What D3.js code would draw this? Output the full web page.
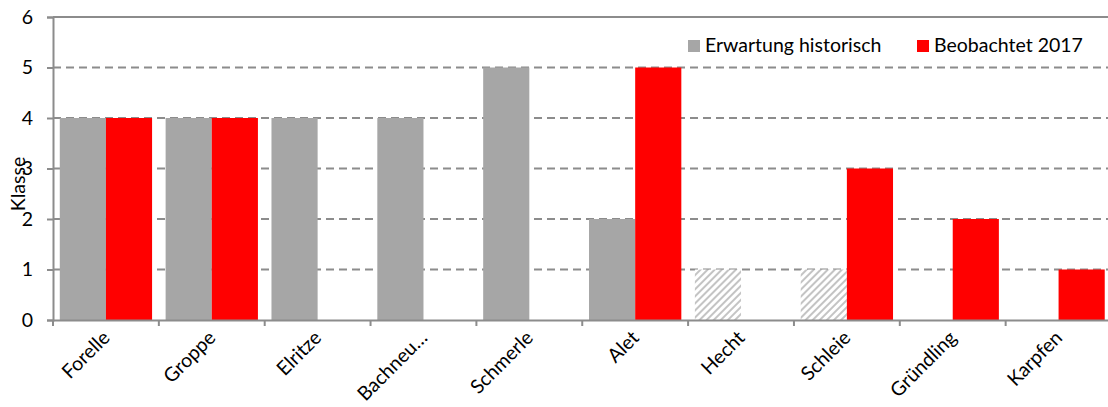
<!DOCTYPE html>
<html>
<head>
<meta charset="utf-8">
<script src="https://cdn.jsdelivr.net/npm/d3@7"></script>
<style>
  html, body { margin: 0; padding: 0; background: #fff; overflow: hidden; }
  svg { display: block; }
  svg text { font-family: Lato, "Open Sans", sans-serif; }
</style>
</head>
<body>
<svg id="chart" width="1108" height="407"></svg>
<script>
// Fish species (x axis)
const categories = ["Forelle", "Groppe", "Elritze", "Bachneu…", "Schmerle", "Alet", "Hecht", "Schleie", "Gründling", "Karpfen"];
// Expected abundance class, historical
const expected = [4, 4, 4, 4, 5, 2, 1, 1, 0, 0];
// Expected values that are only uncertain (drawn hatched)
const expectedUncertain = [false, false, false, false, false, false, true, true, false, false];
// Observed abundance class, 2017
const observed = [4, 4, 0, 0, 0, 5, 0, 3, 2, 1];
// Y axis ticks
const yTicks = [0, 1, 2, 3, 4, 5, 6];
const seriesNames = ["Erwartung historisch", "Beobachtet 2017"];

const GREY = "#a6a6a6", RED = "#ff0000", AXIS = "#8c8c8c";
const FONT = 19.5;

const svg = d3.select("#chart");

const x = d3.scaleBand().domain(categories).range([53, 1111.5]).padding(0);
const y = d3.scaleLinear().domain([0, 6]).range([320, 17]);

const barW = x.bandwidth() * 0.436;
const groupOff = (x.bandwidth() - 2 * barW) / 2;

// hatch pattern for uncertain expectations
const defs = svg.append("defs");
const pat = defs.append("pattern")
  .attr("id", "hatch").attr("patternUnits", "userSpaceOnUse")
  .attr("width", 5).attr("height", 5)
  .attr("patternTransform", "rotate(45)");
pat.append("rect").attr("width", 5).attr("height", 5).attr("fill", "#fff");
pat.append("rect").attr("width", 2).attr("height", 5).attr("fill", "#c4c4c4");

// grid lines
svg.append("g").selectAll("line")
  .data(yTicks.filter(d => d > 0))
  .join("line")
  .attr("x1", 53).attr("x2", 1111.5)
  .attr("y1", d => y(d)).attr("y2", d => y(d))
  .attr("stroke", AXIS).attr("stroke-width", 2)
  .attr("stroke-dasharray", d => d === 6 ? null : "8,5");

// bars: expected
svg.append("g").selectAll("rect")
  .data(categories.map((c, i) => ({ c, v: expected[i], u: expectedUncertain[i] })).filter(d => d.v > 0))
  .join("rect")
  .attr("x", d => x(d.c) + groupOff)
  .attr("y", d => y(d.v))
  .attr("width", barW)
  .attr("height", d => y(0) - y(d.v))
  .attr("fill", d => d.u ? "url(#hatch)" : GREY);

// bars: observed
svg.append("g").selectAll("rect")
  .data(categories.map((c, i) => ({ c, v: observed[i] })).filter(d => d.v > 0))
  .join("rect")
  .attr("x", d => x(d.c) + groupOff + barW)
  .attr("y", d => y(d.v))
  .attr("width", barW)
  .attr("height", d => y(0) - y(d.v))
  .attr("fill", RED);

// y axis
const yAxis = svg.append("g").attr("transform", "translate(53,0)")
  .call(d3.axisLeft(y).tickValues(yTicks).tickFormat(d3.format("d")).tickSize(6).tickPadding(14))
  .attr("font-family", null).attr("font-size", FONT);
yAxis.select(".domain").attr("stroke", AXIS).attr("stroke-width", 2);
yAxis.selectAll(".tick line").attr("stroke", AXIS).attr("stroke-width", 2);
yAxis.selectAll(".tick text").attr("fill", "#000");

// x axis
const xAxis = svg.append("g").attr("transform", "translate(0,320)")
  .call(d3.axisBottom(x).tickSize(0).tickFormat(""))
  .attr("font-family", null).attr("font-size", FONT);
xAxis.select(".domain").attr("stroke", AXIS).attr("stroke-width", 2);
xAxis.selectAll(".tick").remove();
xAxis.selectAll("line.sep")
  .data(categories)
  .join("line").attr("class", "sep")
  .attr("x1", d => x(d)).attr("x2", d => x(d))
  .attr("y1", 0).attr("y2", 6)
  .attr("stroke", AXIS).attr("stroke-width", 2);
xAxis.selectAll("text.lab")
  .data(categories)
  .join("text").attr("class", "lab")
  .attr("transform", d => `translate(${x(d) + x.bandwidth() / 2 + 5},${19}) rotate(-45)`)
  .attr("text-anchor", "end")
  .attr("fill", "#000")
  .text(d => d);

// y axis title
svg.append("text")
  .attr("transform", "translate(25,184) rotate(-90)")
  .attr("text-anchor", "middle")
  .attr("font-size", FONT)
  .attr("fill", "#000")
  .text("Klasse");

// legend
const legend = svg.append("g");
const legX = [688, 917];
seriesNames.forEach((name, i) => {
  legend.append("rect").attr("x", legX[i]).attr("y", 40).attr("width", 12).attr("height", 12)
    .attr("fill", i === 0 ? GREY : RED);
  legend.append("text").attr("x", legX[i] + 17).attr("y", 52)
    .attr("font-size", FONT).attr("fill", "#000").text(name);
});
</script>
</body>
</html>
